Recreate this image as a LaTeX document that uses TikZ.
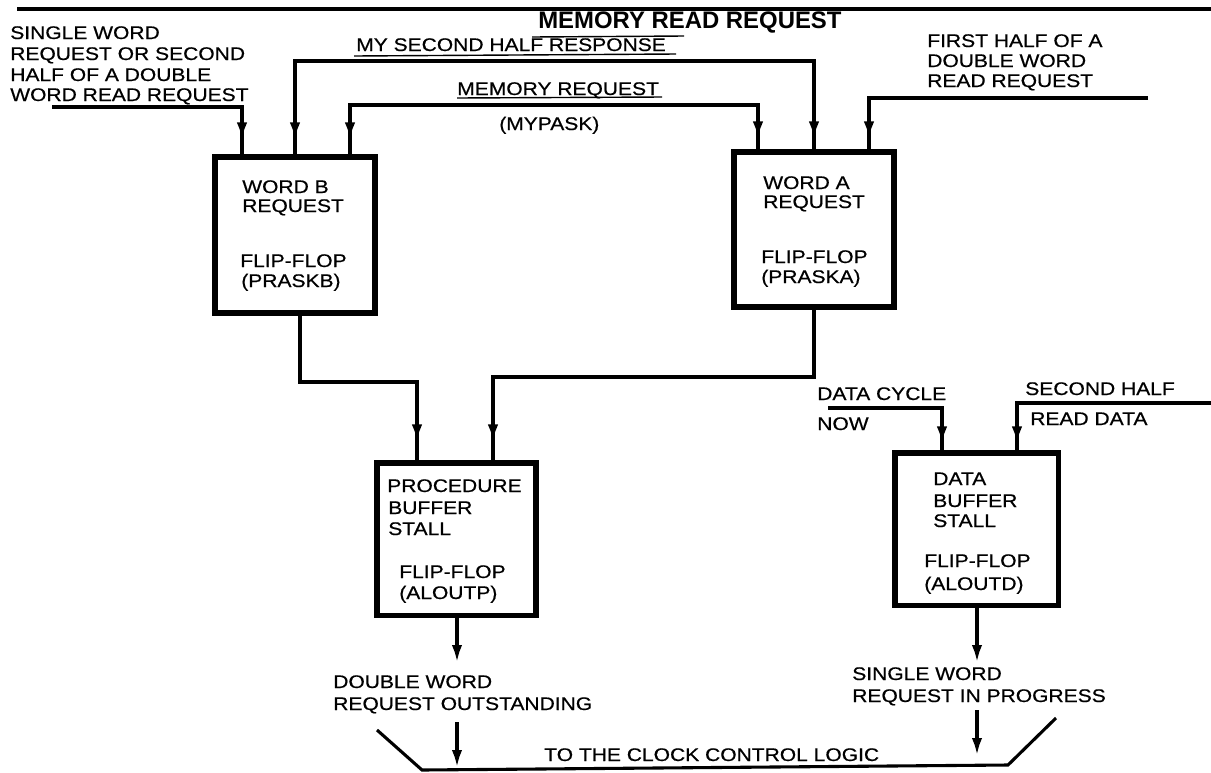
\documentclass[tikz,border=0pt]{standalone}
\usepackage{fontspec}
\newfontfamily\labfont[FakeStretch=1.15,FakeBold=0.6]{Liberation Sans}
\newfontfamily\ttlfont{Liberation Sans}
\usetikzlibrary{arrows.meta,decorations.markings}
\tikzset{
  mytip/.tip={Latex[length=0.45cm,width=0.26cm]},
  lbl/.style={anchor=base west, inner sep=0pt, font=\labfont\fontsize{13}{15}\selectfont},
  ttl/.style={anchor=base west, inner sep=0pt, font=\ttlfont\bfseries\fontsize{17}{20}\selectfont},
  ffbox/.style={draw, line width=3.6pt, inner sep=0pt, rectangle},
  sig/.style={line width=2.6pt},
  thin/.style={line width=1pt},
  arrend/.style={postaction={decorate,decoration={markings,mark=at position -#1 with {\arrow{mytip}}}}},
  arrstart/.style={postaction={decorate,decoration={markings,mark=at position #1 with {\arrowreversed{mytip}}}}},
}
\begin{document}
\begin{tikzpicture}[x=0.025cm,y=-0.025cm]
\useasboundingbox (0,0) rectangle (1211,772);

% boxes
\node[ffbox, minimum width=4.0cm, minimum height=3.9cm] (boxB) at (295,235) {};
\node[ffbox, minimum width=4.0cm, minimum height=3.875cm] (boxA) at (814,229.5) {};
\node[ffbox, minimum width=3.975cm, minimum height=3.8cm] (boxP) at (456.5,539) {};
\node[ffbox, minimum width=4.075cm, minimum height=3.8cm] (boxD) at (976.5,529) {};

% top rule and title
\coordinate (topL) at (17,9);
\coordinate (topR) at (1211,9);
\draw[line width=3.2pt] (topL) -- (topR);
\node[ttl] (title) at (538,28) {MEMORY READ REQUEST};
\coordinate (tuL) at (532,37);
\coordinate (tuR) at (684,36);
\draw[thin] (tuL) -- (tuR);

% left label
\node[lbl] (l1) at (10,39) {SINGLE WORD};
\node[lbl] (l2) at (10,60) {REQUEST OR SECOND};
\node[lbl] (l3) at (10,81) {HALF OF A DOUBLE};
\node[lbl] (l4) at (10,101) {WORD READ REQUEST};

% middle labels
\node[lbl] (m1) at (356,51) {MY SECOND HALF RESPONSE};
\coordinate (m1uL) at (354,56);
\coordinate (m1uR) at (676,54);
\draw[thin] (m1uL) -- (m1uR);
\node[lbl] (m2) at (457,95) {MEMORY REQUEST};
\coordinate (m2uL) at (457,98);
\coordinate (m2uR) at (662,97);
\draw[thin] (m2uL) -- (m2uR);
\node[lbl] (m3) at (499,130) {(MYPASK)};

% right label
\node[lbl] (r1) at (927,47) {FIRST HALF OF A};
\node[lbl] (r2) at (927,67) {DOUBLE WORD};
\node[lbl] (r3) at (927,87) {READ REQUEST};

% box texts
\node[lbl] (b1) at (242,193) {WORD B};
\node[lbl] (b2) at (242,212) {REQUEST};
\node[lbl] (b3) at (240,267) {FLIP-FLOP};
\node[lbl] (b4) at (241,287) {(PRASKB)};

\node[lbl] (a1) at (763,189) {WORD A};
\node[lbl] (a2) at (763,208) {REQUEST};
\node[lbl] (a3) at (761,263) {FLIP-FLOP};
\node[lbl] (a4) at (761,283) {(PRASKA)};

\node[lbl] (p1) at (387,492) {PROCEDURE};
\node[lbl] (p2) at (388,514) {BUFFER};
\node[lbl] (p3) at (388,535) {STALL};
\node[lbl] (p4) at (399,578) {FLIP-FLOP};
\node[lbl] (p5) at (399,599) {(ALOUTP)};

\node[lbl] (d1) at (933,485) {DATA};
\node[lbl] (d2) at (933,507) {BUFFER};
\node[lbl] (d3) at (933,527) {STALL};
\node[lbl] (d4) at (924,567) {FLIP-FLOP};
\node[lbl] (d5) at (924,590) {(ALOUTD)};

% data stall inputs labels
\node[lbl] (dc1) at (817,400) {DATA CYCLE};
\node[lbl] (dc2) at (817,430) {NOW};
\node[lbl] (sh1) at (1025,395) {SECOND HALF};
\node[lbl] (sh2) at (1030,425) {READ DATA};

% output labels
\node[lbl] (o1) at (333,688) {DOUBLE WORD};
\node[lbl] (o2) at (333,710) {REQUEST OUTSTANDING};
\node[lbl] (o3) at (852,680) {SINGLE WORD};
\node[lbl] (o4) at (852,702) {REQUEST IN PROGRESS};
\node[lbl] (clk) at (544,761) {TO THE CLOCK CONTROL LOGIC};

% helper coordinates
\coordinate (inL) at (52,107);
\coordinate (xb1) at (242,0);
\coordinate (xb3) at (350,0);
\coordinate (xa1) at (758,0);
\coordinate (xa3) at (869,0);
\coordinate (h2) at (554,61);
\coordinate (h3) at (554,105);
\coordinate (inR) at (1148,98);
\coordinate (xb0) at (300,0);
\coordinate (h5) at (360,382);
\coordinate (xp1) at (417,0);
\coordinate (h6) at (650,377);
\coordinate (xp2) at (493,0);
\coordinate (pOut) at (457,663);
\coordinate (pIn) at (457,722);
\coordinate (pEnd) at (457,768);
\coordinate (inD1) at (828,408);
\coordinate (xd1) at (942,0);
\coordinate (inD2) at (1211,403);
\coordinate (xd2) at (1017,0);
\coordinate (dOut) at (977,663);
\coordinate (dIn) at (977,710);
\coordinate (dEnd) at (977,756);
\coordinate (tl) at (377,730);
\coordinate (bl) at (422,770);
\coordinate (br) at (1008,765);
\coordinate (tr) at (1056,718);

% connectors
\draw[sig, arrend=0.35cm] (inL) -| (boxB.north -| xb1);
\draw[sig, arrstart=0.35cm, arrend=0.25cm] (boxB.north) |- (h2) -| (boxA.north);
\draw[sig, arrstart=0.35cm, arrend=0.25cm] (boxB.north -| xb3) |- (h3) -| (boxA.north -| xa1);
\draw[sig, arrend=0.25cm] (inR) -| (boxA.north -| xa3);
\draw[sig, arrend=0.45cm] (boxB.south -| xb0) |- (h5) -| (boxP.north -| xp1);
\draw[sig, arrend=0.45cm] (boxA.south) |- (h6) -| (boxP.north -| xp2);
\draw[sig, -mytip] (boxP.south -| pOut) -- (pOut);
\draw[sig, -mytip] (pIn) -- (pEnd);
\draw[sig, arrend=0.15cm] (inD1) -| (boxD.north -| xd1);
\draw[sig, arrend=0.15cm] (inD2) -| (boxD.north -| xd2);
\draw[sig, -mytip] (boxD.south -| dOut) -- (dOut);
\draw[sig, -mytip] (dIn) -- (dEnd);
\draw[line width=2.2pt] (tl) -- (bl) -- (br) -- (tr);
\end{tikzpicture}
\end{document}
